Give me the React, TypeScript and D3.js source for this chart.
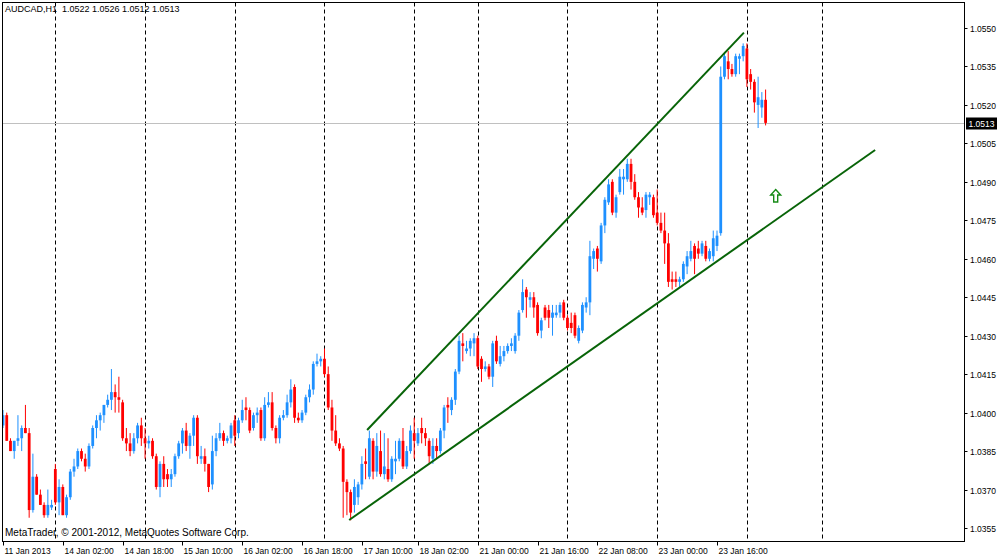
import React from "react";
import * as d3 from "d3";

// hourly bars, 11 Jan 2013 10:00 .. 24 Jan 2013
const opens = [
  1.0395, 1.0399, 1.0389, 1.0385, 1.0389, 1.039, 1.0394, 1.0392, 1.0362, 1.0375,
  1.0368, 1.0364, 1.036, 1.0363, 1.0378, 1.0365, 1.0371, 1.036, 1.0367, 1.0377,
  1.0379, 1.0385, 1.0382, 1.0379, 1.0387, 1.0394, 1.0397, 1.0399, 1.0403, 1.0405,
  1.0408, 1.0406, 1.0404, 1.039, 1.0388, 1.0385, 1.039, 1.0395, 1.039, 1.0388,
  1.0389, 1.0383, 1.0371, 1.038, 1.0376, 1.0374, 1.0376, 1.0383, 1.0388, 1.0393,
  1.0387, 1.0391, 1.0398, 1.0382, 1.0383, 1.038, 1.0372, 1.0385, 1.039, 1.0392,
  1.0389, 1.039, 1.0397, 1.0392, 1.0397, 1.0402, 1.0401, 1.0394, 1.0399, 1.0401,
  1.039, 1.0403, 1.0404, 1.0394, 1.039, 1.0398, 1.0399, 1.0404, 1.041, 1.0398,
  1.0397, 1.04, 1.0406, 1.0409, 1.0419, 1.042, 1.0421, 1.0415, 1.0402, 1.0393,
  1.0388, 1.0386, 1.0373, 1.0369, 1.0364, 1.0367, 1.0372, 1.0381, 1.0375, 1.0389,
  1.0377, 1.0385, 1.0376, 1.0378, 1.0374, 1.0381, 1.0382, 1.0389, 1.0379, 1.0385,
  1.0392, 1.0388, 1.0394, 1.0392, 1.0389, 1.0382, 1.0387, 1.0385, 1.0393, 1.0403,
  1.0401, 1.0405, 1.0416, 1.0427, 1.0424, 1.0425, 1.0427, 1.0429, 1.0421, 1.0417,
  1.0418, 1.0414, 1.0428, 1.0419, 1.0422, 1.0424, 1.0426, 1.0424, 1.043, 1.044,
  1.0448, 1.0444, 1.0445, 1.0442, 1.0432, 1.0441, 1.044, 1.0437, 1.0438, 1.0439,
  1.0443, 1.0437, 1.0435, 1.0438, 1.0428, 1.0432, 1.0441, 1.0443, 1.046, 1.0464,
  1.0459, 1.0473, 1.0482, 1.049, 1.0478, 1.0486, 1.0491, 1.0491, 1.0497, 1.049,
  1.0484, 1.048, 1.0479, 1.0484, 1.0484, 1.0478, 1.0474, 1.0471, 1.0466, 1.0452,
  1.0452, 1.0451, 1.0452, 1.0457, 1.046, 1.0465, 1.0464, 1.0462, 1.0465, 1.046,
  1.0461, 1.0465, 1.047, 1.0531, 1.0537, 1.0534, 1.0532, 1.0538, 1.0539, 1.0542,
  1.0532, 1.0529, 1.052, 1.0519, 1.0522,
];
const highs = [
  1.0401, 1.04, 1.039, 1.0389, 1.0399, 1.0395, 1.0403, 1.0394, 1.0384, 1.0376,
  1.037, 1.0365, 1.037, 1.0366, 1.038, 1.0374, 1.0372, 1.0368, 1.0378, 1.0382,
  1.0386, 1.0386, 1.0384, 1.0388, 1.0395, 1.0399, 1.04, 1.0403, 1.0407, 1.0417,
  1.0411, 1.0414, 1.0405, 1.0394, 1.0392, 1.0392, 1.0396, 1.0398, 1.0394, 1.0391,
  1.039, 1.0384, 1.0381, 1.0383, 1.0378, 1.0378, 1.0384, 1.0389, 1.0394, 1.0396,
  1.0392, 1.0399, 1.0399, 1.0387, 1.0386, 1.038, 1.0391, 1.0392, 1.0396, 1.0393,
  1.0391, 1.0396, 1.0399, 1.0398, 1.0405, 1.0406, 1.0402, 1.04, 1.0402, 1.0402,
  1.0406, 1.0408, 1.0408, 1.0395, 1.0399, 1.0401, 1.0407, 1.0413, 1.0411, 1.04,
  1.0401, 1.0407, 1.0411, 1.042, 1.0423, 1.0422, 1.0425, 1.0418, 1.0405, 1.0399,
  1.039, 1.0387, 1.0374, 1.037, 1.0374, 1.0373, 1.0383, 1.0386, 1.0393, 1.039,
  1.0392, 1.0393, 1.0392, 1.039, 1.0383, 1.0389, 1.039, 1.0394, 1.0387, 1.0395,
  1.0398, 1.0394, 1.0398, 1.0394, 1.039, 1.039, 1.039, 1.0394, 1.0403, 1.0406,
  1.0406, 1.0417, 1.043, 1.0431, 1.0428, 1.0429, 1.0431, 1.043, 1.0422, 1.042,
  1.0419, 1.0428, 1.043, 1.0426, 1.0426, 1.0427, 1.0429, 1.0431, 1.044, 1.0452,
  1.0449, 1.0447, 1.0447, 1.0443, 1.0437, 1.0442, 1.0442, 1.0442, 1.0442, 1.0443,
  1.0444, 1.0438, 1.0439, 1.0439, 1.0434, 1.0443, 1.0445, 1.0467, 1.0464, 1.0465,
  1.0474, 1.0484, 1.0491, 1.0491, 1.0485, 1.0495, 1.0495, 1.0499, 1.0499, 1.0493,
  1.0486, 1.0484, 1.0486, 1.0486, 1.0485, 1.0487, 1.0478, 1.0478, 1.047, 1.0455,
  1.0455, 1.0453, 1.0459, 1.0463, 1.0467, 1.0466, 1.0467, 1.0467, 1.0467, 1.0464,
  1.0471, 1.0471, 1.0535, 1.054, 1.0541, 1.0536, 1.054, 1.054, 1.0544, 1.0544,
  1.0534, 1.053, 1.0531, 1.0525, 1.0526,
];
const lows = [
  1.0394, 1.0389, 1.0385, 1.0382, 1.0387, 1.0385, 1.0392, 1.0359, 1.0361, 1.0368,
  1.0364, 1.0359, 1.0359, 1.0362, 1.0364, 1.036, 1.036, 1.0359, 1.0366, 1.0375,
  1.0378, 1.0381, 1.0377, 1.0378, 1.0386, 1.039, 1.0393, 1.0396, 1.0402, 1.0401,
  1.04, 1.04, 1.0389, 1.0385, 1.0383, 1.0384, 1.0388, 1.0387, 1.0382, 1.0386,
  1.0382, 1.037, 1.0367, 1.0371, 1.0371, 1.0371, 1.0375, 1.0382, 1.0384, 1.0385,
  1.0382, 1.0387, 1.038, 1.038, 1.0377, 1.0369, 1.037, 1.0383, 1.0389, 1.0387,
  1.0388, 1.0388, 1.0387, 1.039, 1.0396, 1.0397, 1.0392, 1.0393, 1.0396, 1.0389,
  1.0389, 1.0402, 1.0393, 1.0388, 1.0388, 1.0397, 1.0398, 1.0402, 1.0396, 1.0396,
  1.0396, 1.0399, 1.0404, 1.0407, 1.0418, 1.0418, 1.0414, 1.0401, 1.0389, 1.0387,
  1.0385, 1.0359, 1.036, 1.0358, 1.0361, 1.0364, 1.037, 1.0374, 1.0374, 1.0374,
  1.0375, 1.0375, 1.0374, 1.0373, 1.0373, 1.0376, 1.0381, 1.0378, 1.0378, 1.0384,
  1.0382, 1.0387, 1.0388, 1.0387, 1.038, 1.038, 1.0382, 1.0384, 1.039, 1.0396,
  1.0399, 1.0403, 1.0415, 1.042, 1.0423, 1.0422, 1.0422, 1.0417, 1.0412, 1.0416,
  1.0413, 1.041, 1.0419, 1.0418, 1.042, 1.0423, 1.0424, 1.0423, 1.0428, 1.0439,
  1.0437, 1.0441, 1.0437, 1.043, 1.0429, 1.0436, 1.0433, 1.043, 1.0437, 1.0437,
  1.0436, 1.0432, 1.0431, 1.0429, 1.0427, 1.0431, 1.0439, 1.0438, 1.0456, 1.0455,
  1.0458, 1.047, 1.0481, 1.0477, 1.0476, 1.0485, 1.0485, 1.049, 1.0487, 1.0483,
  1.0476, 1.0477, 1.0476, 1.0481, 1.0476, 1.0473, 1.047, 1.0458, 1.0449, 1.0448,
  1.0449, 1.0449, 1.0451, 1.0454, 1.0459, 1.0454, 1.046, 1.0461, 1.0459, 1.0459,
  1.0459, 1.0463, 1.0469, 1.053, 1.053, 1.0531, 1.0531, 1.0532, 1.0537, 1.0527,
  1.0526, 1.0517, 1.0511, 1.0515, 1.0512,
];
const closes = [
  1.0399, 1.0389, 1.0385, 1.0389, 1.039, 1.0394, 1.0392, 1.0362, 1.0375, 1.0368,
  1.0364, 1.036, 1.0364, 1.0364, 1.0365, 1.0371, 1.036, 1.0367, 1.0377, 1.0379,
  1.0385, 1.0382, 1.0379, 1.0387, 1.0394, 1.0397, 1.0399, 1.0403, 1.0405, 1.0408,
  1.0406, 1.0405, 1.039, 1.0388, 1.0385, 1.039, 1.0395, 1.039, 1.0388, 1.0389,
  1.0383, 1.0371, 1.038, 1.0374, 1.0374, 1.0376, 1.0383, 1.0388, 1.0393, 1.0387,
  1.0391, 1.0398, 1.0383, 1.0383, 1.038, 1.0371, 1.0385, 1.039, 1.0392, 1.0389,
  1.039, 1.0395, 1.0391, 1.0397, 1.0401, 1.0401, 1.0393, 1.0399, 1.04, 1.039,
  1.0403, 1.0404, 1.0394, 1.039, 1.0398, 1.0399, 1.0404, 1.0409, 1.0398, 1.0397,
  1.04, 1.0406, 1.0409, 1.0419, 1.042, 1.0421, 1.0415, 1.0402, 1.0393, 1.0388,
  1.0386, 1.0373, 1.0369, 1.0361, 1.0371, 1.0372, 1.038, 1.038, 1.039, 1.0377,
  1.0387, 1.0376, 1.0379, 1.0374, 1.0382, 1.0382, 1.0389, 1.0379, 1.0385, 1.0393,
  1.0389, 1.0392, 1.0392, 1.039, 1.0383, 1.0387, 1.0385, 1.0393, 1.0402, 1.0402,
  1.0405, 1.0416, 1.0428, 1.0426, 1.0425, 1.0428, 1.0429, 1.0418, 1.0417, 1.0418,
  1.0414, 1.0427, 1.042, 1.0422, 1.0424, 1.0426, 1.0427, 1.043, 1.0439, 1.0447,
  1.0445, 1.0445, 1.0441, 1.0431, 1.0436, 1.0437, 1.0437, 1.0439, 1.0439, 1.0442,
  1.0437, 1.0433, 1.0433, 1.043, 1.0433, 1.0442, 1.0443, 1.0461, 1.0463, 1.046,
  1.0473, 1.0483, 1.0489, 1.0478, 1.0484, 1.0492, 1.0492, 1.0497, 1.049, 1.0484,
  1.048, 1.0478, 1.0485, 1.0485, 1.0477, 1.0474, 1.0471, 1.0466, 1.0451, 1.0451,
  1.0451, 1.0452, 1.0458, 1.0461, 1.0463, 1.046, 1.0462, 1.0466, 1.046, 1.0463,
  1.0468, 1.0469, 1.0531, 1.0539, 1.0534, 1.0532, 1.0539, 1.0539, 1.0543, 1.053,
  1.0529, 1.0521, 1.0523, 1.0522, 1.0513,
];

const priceTicks = [
  1.0355, 1.037, 1.0385, 1.04, 1.0415, 1.043, 1.0445, 1.046, 1.0475, 1.049,
  1.0505, 1.052, 1.0535, 1.055,
];
const timeLabels = [
  "11 Jan 2013", "14 Jan 02:00", "14 Jan 18:00", "15 Jan 10:00", "16 Jan 02:00",
  "16 Jan 18:00", "17 Jan 10:00", "18 Jan 02:00", "21 Jan 00:00", "21 Jan 16:00",
  "22 Jan 08:00", "23 Jan 00:00", "23 Jan 16:00",
];
const timeLabelBars = [0, 16, 32, 48, 64, 80, 96, 111, 127, 143, 159, 175, 191];
const separatorBars = [14, 38, 62, 86, 110, 127, 151, 175, 199, 219];

// trend lines: [bar, price]
const upperLine: [number, number][] = [[97.4, 1.03932], [198.2, 1.05482]];
const lowerLine: [number, number][] = [[92.6, 1.03581], [233.3, 1.05024]];
const arrowMark: [number, number] = [206.7, 1.04845];

const symbol = "AUDCAD,H1";
const copyright = "MetaTrader, \u00A9 2001-2012, MetaQuotes Software Corp.";

const W = 1000;
const H = 557;
const left = 2.5;
const right = 964.5;
const top = 2.5;
const bottom = 541.5;
const font = "'Liberation Sans', Arial, sans-serif";

export default function App() {
  const x = d3.scaleLinear().domain([0, 191]).range([3, 717]);
  const y = d3.scaleLinear().domain([1.0355, 1.055]).range([528, 28]);
  const last = closes.length - 1;
  const lastPrice = closes[last];
  const line = d3
    .line<[number, number]>()
    .x((d) => x(d[0]))
    .y((d) => y(d[1]));

  const title = `${symbol}  ${[opens[last], highs[last], lows[last], closes[last]]
    .map((v) => v.toFixed(4))
    .join(" ")}`;

  const ax = x(arrowMark[0]);
  const ay = y(arrowMark[1]);
  const arrowPath = `M${ax},${ay - 6.5} L${ax + 5},${ay - 1} L${ax + 2},${ay - 1} L${ax + 2},${ay + 6} L${ax - 2},${ay + 6} L${ax - 2},${ay - 1} L${ax - 5},${ay - 1} Z`;

  const lastY = Math.round(y(lastPrice)) + 0.5;

  return (
    <svg
      width={W}
      height={H}
      style={{ position: "absolute", left: 0, top: 0, background: "#fff" }}
      fontFamily={font}
    >
      <defs>
        <clipPath id="plot">
          <rect x={left} y={top} width={right - left} height={bottom - top} />
        </clipPath>
      </defs>
      <rect x={0} y={0} width={W} height={H} fill="#fff" />

      <g clipPath="url(#plot)">
        {separatorBars.map((b, i) => {
          const sx = Math.round(x(b)) + 0.5;
          return (
            <line
              key={"sep" + i}
              x1={sx}
              x2={sx}
              y1={top}
              y2={bottom}
              stroke="#000"
              strokeWidth={1}
              strokeDasharray="4,3"
            />
          );
        })}

        <line x1={left} x2={right} y1={lastY} y2={lastY} stroke="#c0c0c0" strokeWidth={1} />

        {opens.map((o, i) => {
          const c = closes[i];
          const up = c >= o;
          const color = up ? "#1e90ff" : "#ff0000";
          const cx = x(i);
          const hi = Math.max(highs[i], o, c);
          const lo = Math.min(lows[i], o, c);
          const bodyTop = y(Math.max(o, c));
          const bodyH = Math.max(1, Math.abs(y(o) - y(c)));
          return (
            <g key={"bar" + i}>
              <line x1={cx} x2={cx} y1={y(hi)} y2={y(lo)} stroke={color} strokeWidth={1} />
              <rect x={cx - 1.4} y={bodyTop} width={2.8} height={bodyH} fill={color} />
            </g>
          );
        })}

        <path d={line(upperLine) || ""} fill="none" stroke="#086408" strokeWidth={2} />
        <path d={line(lowerLine) || ""} fill="none" stroke="#086408" strokeWidth={2} />
        <path d={arrowPath} fill="#fff" stroke="#168a16" strokeWidth={1.4} />
      </g>

      <rect
        x={left}
        y={top}
        width={right - left}
        height={bottom - top}
        fill="none"
        stroke="#000"
        strokeWidth={1}
      />

      <text x={5} y={12} fontSize={9} fill="#000" style={{ whiteSpace: "pre" }}>
        {title}
      </text>
      <text x={5} y={536} fontSize={10} fill="#000">
        {copyright}
      </text>

      {priceTicks.map((p, i) => {
        const ty = Math.round(y(p)) + 0.5;
        return (
          <g key={"pt" + i}>
            <line x1={right} x2={right + 3} y1={ty} y2={ty} stroke="#000" />
            <text x={970} y={ty + 3} fontSize={8.5} fill="#000">
              {p.toFixed(4)}
            </text>
          </g>
        );
      })}

      <rect x={966} y={lastY - 6} width={31} height={12} fill="#000" />
      <text x={968.5} y={lastY + 3} fontSize={8.5} fill="#fff">
        {lastPrice.toFixed(4)}
      </text>

      {timeLabels.map((t, i) => {
        const tx = Math.round(x(timeLabelBars[i])) + 0.5;
        return (
          <g key={"tl" + i}>
            <line x1={tx} x2={tx} y1={bottom} y2={bottom + 4} stroke="#000" />
            <text x={tx + 1} y={554} fontSize={8.5} fill="#000">
              {t}
            </text>
          </g>
        );
      })}
    </svg>
  );
}
